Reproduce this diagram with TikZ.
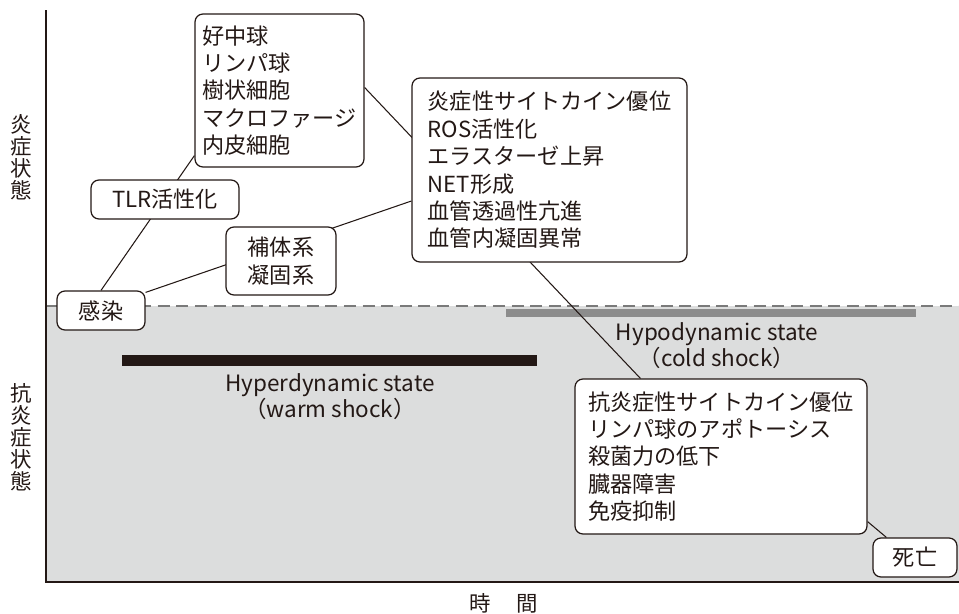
\documentclass[tikz,border=0pt]{standalone}
\usepackage{fontspec}
\setmainfont{Noto Sans CJK JP}
\usetikzlibrary{calc,backgrounds}
\definecolor{ink}{HTML}{231815}
\definecolor{graybg}{HTML}{DCDDDD}
\definecolor{bargray}{HTML}{8C8C8C}
\definecolor{dashgray}{HTML}{7A7A7A}
\begin{document}
\begin{tikzpicture}[x=0.02cm,y=-0.02cm,
  box/.style={draw=ink, line width=0.7pt, rounded corners=0.16cm, fill=white,
    inner sep=0pt, text=ink, font=\fontsize{12.6pt}{15.6pt}\selectfont, align=left},
  lbl/.style={text=ink, font=\fontsize{12.8pt}{14.8pt}\selectfont, align=center, inner sep=0pt},
  axlbl/.style={text=ink, font=\fontsize{12.2pt}{12.5pt}\selectfont, align=center, inner sep=0pt},
  conn/.style={draw=ink, line width=0.6pt},
  axisline/.style={draw=ink, line width=0.75pt}]
\useasboundingbox (0,0) rectangle (959,613);

% boxes
\node[box, minimum width=169*0.02cm, minimum height=153*0.02cm] (neut) at (279.5,90.5)
  {好中球\\リンパ球\\樹状細胞\\マクロファージ\\内皮細胞};
\node[box, align=center, minimum width=148*0.02cm, minimum height=39*0.02cm] (tlr) at (165,199.5) {TLR活性化};
\node[box, align=center, minimum width=110*0.02cm, minimum height=68*0.02cm] (comp) at (281,261) {補体系\\凝固系};
\node[box, align=center, minimum width=88*0.02cm, minimum height=39*0.02cm] (infect) at (101,310.5) {感染};
\node[box, minimum width=275*0.02cm, minimum height=184*0.02cm] (infl) at (549.5,170)
  {炎症性サイトカイン優位\\ROS活性化\\エラスターゼ上昇\\NET形成\\血管透過性亢進\\血管内凝固異常};
\node[box, minimum width=292*0.02cm, minimum height=155*0.02cm] (anti) at (721,456.5)
  {抗炎症性サイトカイン優位\\リンパ球のアポトーシス\\殺菌力の低下\\臓器障害\\免疫抑制};
\node[box, align=center, minimum width=84*0.02cm, minimum height=39*0.02cm] (death) at (915,557.5) {死亡};

% state labels
\node[lbl] (hyper) at (330,397) {Hyperdynamic state\\（warm shock）};
\node[lbl] (hypo) at (717,346) {Hypodynamic state\\（cold shock）};

% axis labels
\node[axlbl] (ylab1) at (21,157.5) {炎\\症\\状\\態};
\node[axlbl] (ylab2) at (21,437.5) {抗\\炎\\症\\状\\態};
\node[axlbl] (xlab) at (503.5,603) {時\hspace{0.5cm}間};

\begin{pgfonlayer}{background}
  \fill[graybg] (46,306) rectangle (959,582);
  \draw[dashgray, line width=0.75pt, dash pattern=on 6.8pt off 3.8pt] (46,306) -- (959,306);
  \fill[ink] (122,355) rectangle (537,366);
  \fill[bargray] (506,309) rectangle (916,317);
  % connectors
  \draw[conn] (infect.north) -- ($(neut.south west)+(0,-12)$);
  \draw[conn] ($(infect.north east)+(0,2)$) -- ($(infl.west)+(0,31)$);
  \draw[conn] ($(neut.east)+(0,-3)$) -- ($(anti.north west)+(66,0)$);
  \draw[conn] ($(anti.south east)+(0,-13)$) -- ($(death.north west)+(14,0)$);
\end{pgfonlayer}

% axes
\draw[axisline] (46,10) -- (46,582) -- (959,582);
\end{tikzpicture}
\end{document}
